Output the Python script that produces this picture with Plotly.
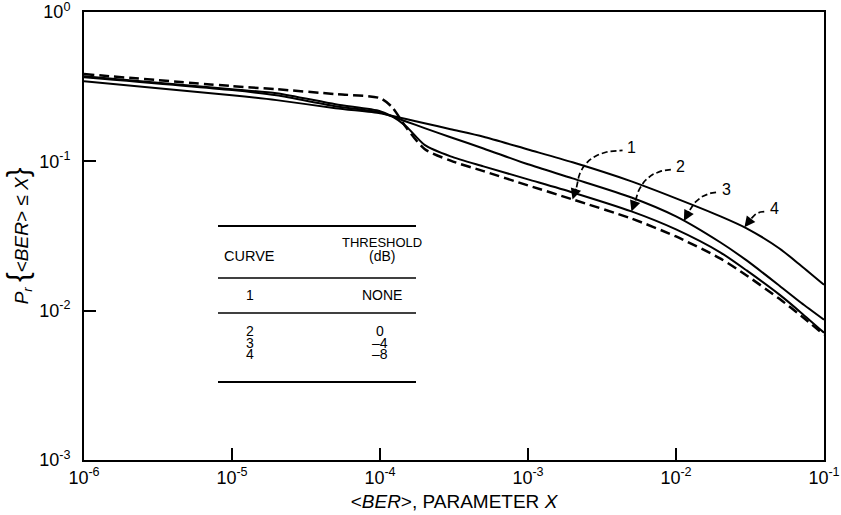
import numpy as np
import plotly.graph_objects as go

# ---------------- data ----------------
x_vals = [1e-6, 1e-5, 2e-5, 5e-5, 1e-4, 1.2e-4, 1.5e-4, 2e-4, 3e-4, 5e-4,
          1e-3, 2e-3, 5e-3, 1e-2, 2e-2, 3e-2, 5e-2, 7e-2, 1e-1]
curve1 = [0.384, 0.319, 0.304, 0.282, 0.265, 0.232, 0.169, 0.121, 0.101, 0.0860,
          0.0690, 0.0556, 0.0414, 0.0314, 0.0223, 0.0172, 0.0120, 0.00925, 0.0069]
curve2 = [0.372, 0.304, 0.286, 0.241, 0.217, 0.201, 0.172, 0.129, 0.108, 0.0925,
          0.0757, 0.0619, 0.0462, 0.0350, 0.0245, 0.0186, 0.0128, 0.0097, 0.00712]
curve3 = [0.366, 0.300, 0.277, 0.234, 0.213, 0.200, 0.185, 0.167, 0.145, 0.122,
          0.0955, 0.0769, 0.0573, 0.0428, 0.0286, 0.0217, 0.0147, 0.0113, 0.0087]
curve4 = [0.344, 0.277, 0.257, 0.227, 0.210, 0.202, 0.192, 0.180, 0.164, 0.146,
          0.120, 0.0985, 0.0734, 0.0565, 0.0428, 0.0356, 0.0261, 0.0200, 0.0149]

x_tickvals = [1e-6, 1e-5, 1e-4, 1e-3, 1e-2, 1e-1]
x_ticktext = ["10<sup>-6</sup>", "10<sup>-5</sup>", "10<sup>-4</sup>",
              "10<sup>-3</sup>", "10<sup>-2</sup>", "10<sup>-1</sup>"]
y_tickvals = [1e-3, 1e-2, 1e-1, 1]
y_ticktext = ["10<sup>-3</sup>", "10<sup>-2</sup>", "10<sup>-1</sup>", "10<sup>0</sup>"]

curve_names = ["1", "2", "3", "4"]
thresholds = ["NONE", "0", "\u20134", "\u20138"]
# x position at which each curve label arrow points
arrow_x = [2e-3, 5e-3, 1.13e-2, 2.9e-2]

FONT = "Liberation Sans, Arial, Helvetica, sans-serif"
W, H = 841, 515
ML, MR, MT, MB = 84, 17, 12, 55
PW, PH = W - ML - MR, H - MT - MB
XR, YR = (-6, -1), (-3, 0)

def paper_x(px):
    return (px - ML) / PW

def paper_y(py):
    return (H - MB - py) / PH

def shift_log(lx, ly, dx, dy):
    return lx + dx * (XR[1] - XR[0]) / PW, ly - dy * (YR[1] - YR[0]) / PH

fig = go.Figure()
curves = [curve1, curve2, curve3, curve4]
for i, c in enumerate(curves):
    fig.add_trace(go.Scatter(
        x=x_vals, y=c, mode="lines",
        line=dict(color="black", width=2.5 if i == 0 else 2,
                  dash="10px,5px" if i == 0 else "solid",
                  shape="spline", smoothing=0.7),
        showlegend=False, hoverinfo="skip"))

# leader lines + arrowheads + numbers
arrow_geom = [  # tail, control, end, label offsets in px (dx right, dy down)
    ((4, -12), (8, -49), (50, -49), (59, -50)),
    ((4, -11), (11, -41), (41, -42), (49, -43)),
    ((6, -11), (15, -28), (35, -29), (43, -29)),
    ((7, -9), (12, -16), (22, -16), (30, -17)),
]
annotations = []
lx_data = np.log10(x_vals)
for i, (c, ax_, geom) in enumerate(zip(curves, arrow_x, arrow_geom)):
    lx = np.log10(ax_)
    ly = float(np.interp(lx, lx_data, np.log10(c)))
    tail, ctrl, end, lab = geom
    t = np.linspace(0, 1, 20)
    bx = (1 - t) ** 2 * tail[0] + 2 * (1 - t) * t * ctrl[0] + t ** 2 * end[0]
    by = (1 - t) ** 2 * tail[1] + 2 * (1 - t) * t * ctrl[1] + t ** 2 * end[1]
    pts = [shift_log(lx, ly, a, b) for a, b in zip(bx, by)]
    fig.add_trace(go.Scatter(
        x=[10 ** p[0] for p in pts], y=[10 ** p[1] for p in pts], mode="lines",
        line=dict(color="black", width=1.7, dash="6px,3px"),
        showlegend=False, hoverinfo="skip"))
    annotations.append(dict(x=lx, y=ly, xref="x", yref="y", text="",
                            showarrow=True, arrowhead=2, arrowsize=1.2,
                            arrowwidth=1.8, arrowcolor="black",
                            ax=tail[0], ay=tail[1], standoff=0))
    annotations.append(dict(x=lx, y=ly, xref="x", yref="y", text=curve_names[i],
                            showarrow=False, xshift=lab[0], yshift=-lab[1] + 2,
                            font=dict(family=FONT, size=16, color="black")))

# table
shapes = []
for py, w in [(226, 2), (278, 1.5), (313, 1.5), (382, 2)]:
    shapes.append(dict(type="line", xref="paper", yref="paper",
                       x0=paper_x(218), x1=paper_x(416), y0=paper_y(py), y1=paper_y(py),
                       line=dict(color="black", width=w)))

def tab_text(txt, px, py, size=14):
    annotations.append(dict(x=paper_x(px), y=paper_y(py), xref="paper", yref="paper",
                            text=txt, showarrow=False, xanchor="center", yanchor="middle",
                            font=dict(family=FONT, size=size, color="black")))

tab_text("THRESHOLD", 382, 242, 13)
tab_text("(dB)", 382, 256)
tab_text("CURVE", 249, 256, 14.5)
tab_text(curve_names[0], 250, 295)
tab_text(thresholds[0], 382, 295)
for k, py in zip(range(1, 4), [331, 342.5, 354]):
    tab_text(curve_names[k], 250, py)
    tab_text(thresholds[k], 380, py)

axis_common = dict(type="log", showline=True, linewidth=2, linecolor="black",
                   mirror=True, ticks="inside", ticklen=12, tickwidth=1.5,
                   tickcolor="black", showgrid=False, zeroline=False,
                   automargin=False, ticklabeloverflow="allow",
                   tickfont=dict(family=FONT, size=18, color="black"))

brace_l = "<span style='font-size:29px'>{</span>"
brace_r = "<span style='font-size:29px'>}</span>"
fig.update_layout(
    width=W, height=H,
    margin=dict(l=ML, r=MR, t=MT, b=MB, autoexpand=False),
    paper_bgcolor="white", plot_bgcolor="white",
    xaxis=dict(range=list(XR), tickvals=x_tickvals, ticktext=x_ticktext,
               ticklabelstandoff=0,
               title=dict(text="&lt;<i>BER</i>&gt;, PARAMETER <i>X</i>",
                          font=dict(family=FONT, size=19, color="black"), standoff=8),
               **axis_common),
    yaxis=dict(range=list(YR), tickvals=y_tickvals, ticktext=y_ticktext,
               ticklabelstandoff=8,
               title=dict(text="<i>P<sub>r</sub></i> " + brace_l + "&lt;<i>BER</i>&gt; \u2264 <i>X</i>" + brace_r,
                          font=dict(family=FONT, size=19, color="black"), standoff=6),
               **axis_common),
    shapes=shapes,
    annotations=annotations,
)

fig.write_html("out.html")
